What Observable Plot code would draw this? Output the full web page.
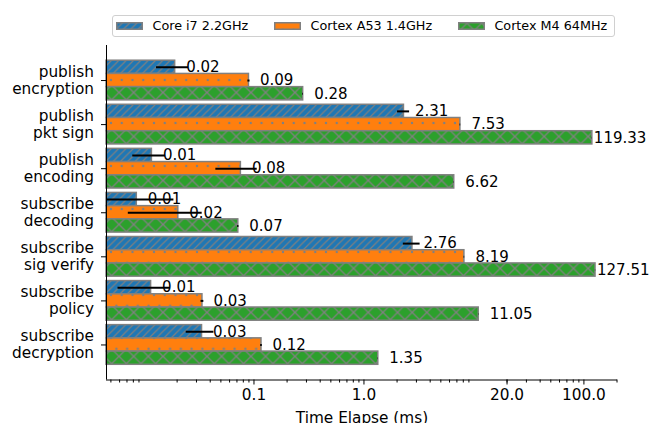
<!DOCTYPE html>
<html><head><meta charset="utf-8">
<script src="https://cdn.jsdelivr.net/npm/d3@7"></script>
<script src="https://cdn.jsdelivr.net/npm/@observablehq/plot@0.6"></script>
<style>
body{margin:0;background:#fff;font-family:"DejaVu Sans",sans-serif;color:#000;}
#wrap{position:relative;width:651px;height:423px;overflow:hidden;}
#legend{position:relative;height:40px;}
#legend .box{position:absolute;left:112px;top:14.7px;width:498px;height:20px;border:1px solid #d0d0d0;border-radius:3px;background:#fff;display:flex;align-items:center;padding-left:3px;gap:25.8px;font-size:12.75px;}
#legend .item{display:flex;align-items:center;white-space:nowrap;}
#legend .item svg{margin-right:9.5px;display:block;}
</style></head><body>
<svg width="0" height="0" style="position:absolute">
<defs>
<pattern id="hBlue" patternUnits="userSpaceOnUse" width="7.33" height="7.33">
<rect width="7.33" height="7.33" fill="#1f77b4"/>
<path d="M-1,1 L1,-1 M0,7.33 L7.33,0 M6.33,8.33 L8.33,6.33" stroke="#808080" stroke-width="1.2"/>
</pattern>
<pattern id="hOrange" patternUnits="userSpaceOnUse" x="3.5" y="18.5" width="10.75" height="21.5">
<rect width="10.75" height="21.5" fill="#ff7f0e"/>
<g fill="#808080"><circle cx="0" cy="0" r="1.2"/><circle cx="10.75" cy="0" r="1.2"/><circle cx="0" cy="21.5" r="1.2"/><circle cx="10.75" cy="21.5" r="1.2"/><circle cx="5.375" cy="10.75" r="1.2"/></g>
</pattern>
<pattern id="hGreen" patternUnits="userSpaceOnUse" x="1.72" y="8.52" width="14.66" height="14.66">
<rect width="14.66" height="14.66" fill="#2ca02c"/>
<path d="M0,0 L14.66,14.66 M14.66,0 L0,14.66" stroke="#808080" stroke-width="1.3"/>
</pattern>
</defs></svg>
<div id="wrap"><div id="legend"></div><div id="chart"></div></div>
<script>
// ---- data ----
const categories = ["publish\nencryption", "publish\npkt sign", "publish\nencoding", "subscribe\ndecoding", "subscribe\nsig verify", "subscribe\npolicy", "subscribe\ndecryption"];
const seriesNames = ["Core i7 2.2GHz", "Cortex A53 1.4GHz", "Cortex M4 64MHz"];
const coreI7 = [0.0192, 2.31, 0.0118, 0.0086, 2.76, 0.0116, 0.0337];
const coreI7Err = [0.0062, 0.29, 0.0039, 0.0101, 0.48, 0.0058, 0.0095];
const cortexA53 = [0.09, 7.53, 0.076, 0.0205, 8.19, 0.034, 0.117];
const cortexA53Err = [0.002, 0.05, 0.031, 0.0133, 0.05, 0.001, 0.002];
const cortexM4 = [0.28, 119.33, 6.62, 0.072, 127.51, 11.05, 1.35];
const cortexM4Err = [0.002, 0.3, 0.02, 0.001, 0.3, 0.03, 0.005];
const majorTicks = [0.1, 1, 20, 100];
const majorTickLabels = ["0.1", "1.0", "20.0", "100.0"];
const xLabel = "Time Elapse (ms)";

// ---- build table ----
const seriesValues = [coreI7, cortexA53, cortexM4];
const seriesErrs = [coreI7Err, cortexA53Err, cortexM4Err];
const patternIds = ["hBlue", "hOrange", "hGreen"];
const barH = 0.3;
const rows = [];
categories.forEach((c, i) => seriesValues.forEach((vals, j) => {
  rows.push({cat: i, series: j, pos: i + (j - 1) * barH, value: vals[i], err: seriesErrs[j][i], label: vals[i].toFixed(2)});
}));

const xMin = 0.00456, xMax = 202;
const pad = 0.345;
const yTop = -1.5 * barH - pad, yBottom = categories.length - 1 + 1.5 * barH + pad;
const minorTicks = d3.scaleLog().domain([xMin, xMax]).ticks().filter(t => {
  const lead = Math.round(t / Math.pow(10, Math.floor(Math.log10(t) + 1e-9)));
  return lead !== 1;
});

const barMarks = seriesNames.map((s, j) => Plot.rect(rows.filter(d => d.series === j), {
  x1: xMin, x2: "value", y1: d => d.pos - barH / 2, y2: d => d.pos + barH / 2,
  fill: `url(#${patternIds[j]})`, stroke: "#808080", strokeWidth: 1.5
}));

const chart = Plot.plot({
  width: 651, height: 383,
  marginLeft: 106, marginRight: 34, marginTop: 5, marginBottom: 43.5,
  style: {fontFamily: '"DejaVu Sans", sans-serif', fontSize: "15.3px", color: "black", background: "white"},
  x: {type: "log", domain: [xMin, xMax], axis: null},
  y: {domain: [yBottom, yTop], axis: null},
  marks: [
    ...barMarks,
    Plot.ruleY(rows.filter(d => d.err > 0), {y: "pos", x1: d => Math.max(d.value - d.err, xMin), x2: d => d.value + d.err, stroke: "black", strokeWidth: 2}),
    Plot.text(rows.filter(d => d.value < 100), {x: "value", y: "pos", text: "label", textAnchor: "start", dx: 11, fontSize: 15, fill: "black"}),
    Plot.text(rows.filter(d => d.value >= 100), {x: "value", y: "pos", text: "label", textAnchor: "start", dx: 1.5, fontSize: 15, fill: "black"}),
    Plot.ruleX([xMin], {stroke: "black", strokeWidth: 1}),
    Plot.ruleY([yBottom], {stroke: "black", strokeWidth: 1}),
    Plot.axisY({ticks: categories.map((_, i) => i), tickSize: 5, tickFormat: () => "", label: null}),
    Plot.axisY({ticks: categories.map((_, i) => i), tickSize: 0, tickPadding: 12.5, tickFormat: i => categories[i], fontSize: 15.3, lineHeight: 1.1, dy: -0.5, label: null}),
    Plot.axisX({ticks: minorTicks, tickSize: 3, tickFormat: () => "", label: null}),
    Plot.axisX({ticks: majorTicks, tickSize: 5, tickPadding: 4.5, tickFormat: d => majorTickLabels[majorTicks.indexOf(d)], fontSize: 15.3, label: null}),
    Plot.text([xLabel], {frameAnchor: "bottom", lineAnchor: "middle", dy: 37.6, fontSize: 15.3, fill: "black"})
  ]
});
document.getElementById("chart").appendChild(chart);

// ---- legend ----
const legend = document.getElementById("legend");
const box = document.createElement("div");
box.className = "box";
seriesNames.forEach((n, j) => {
  const item = document.createElement("div");
  item.className = "item";
  item.innerHTML = `<svg width="27" height="8"><rect x="0.75" y="0.75" width="25.5" height="6.5" fill="url(#${patternIds[j]})" stroke="#808080" stroke-width="1.5"/></svg><span>${n}</span>`;
  box.appendChild(item);
});
legend.appendChild(box);
</script>
</body></html>
